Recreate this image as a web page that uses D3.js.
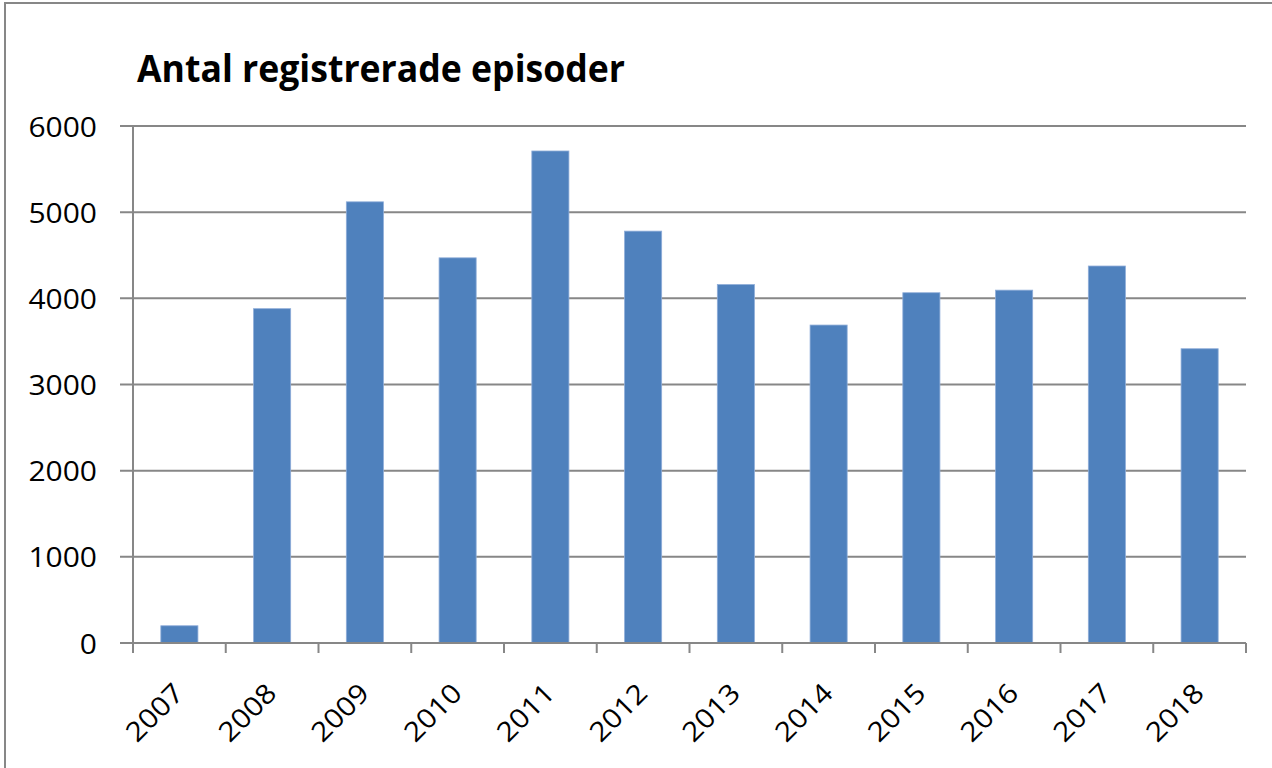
<!DOCTYPE html>
<html>
<head>
<meta charset="utf-8">
<script src="https://cdn.jsdelivr.net/npm/d3@7"></script>
<style>
  body { margin: 0; background: #fff; }
  text { font-family: "Open Sans", sans-serif; fill: #000; }
</style>
</head>
<body>
<svg id="chart" width="1272" height="768"></svg>
<script>
// data
var years = ["2007","2008","2009","2010","2011","2012","2013","2014","2015","2016","2017","2018"];
var episodes = [200, 3880, 5120, 4470, 5710, 4780, 4160, 3690, 4065, 4095, 4375, 3415];
var yTicks = [0, 1000, 2000, 3000, 4000, 5000, 6000];
var title = "Antal registrerade episoder";

var svg = d3.select("#chart"),
    width = +svg.attr("width"),
    height = +svg.attr("height");

var margin = {left: 133, right: 26, top: 126, bottom: 125};
var plotW = width - margin.left - margin.right,
    plotH = height - margin.top - margin.bottom;

var grey = "#878787";

// outer frame
svg.append("rect")
    .attr("x", 5).attr("y", 3)
    .attr("width", width + 10).attr("height", height + 10)
    .attr("fill", "none")
    .attr("stroke", grey)
    .attr("stroke-width", 2);

svg.append("text")
    .attr("x", 137)
    .attr("y", 82)
    .attr("font-size", 37)
    .attr("font-weight", "bold")
    .attr("textLength", 488)
    .attr("lengthAdjust", "spacingAndGlyphs")
    .text(title);

var g = svg.append("g")
    .attr("transform", "translate(" + margin.left + "," + margin.top + ")");

var x = d3.scaleBand()
    .domain(years)
    .range([0, plotW])
    .paddingInner(0.6)
    .paddingOuter(0.3);

var y = d3.scaleLinear()
    .domain([0, 6000])
    .range([plotH, 0]);

// stretch text a bit wider, like the original
function widen(sel, f) {
    sel.each(function() {
        var len = this.getComputedTextLength();
        d3.select(this)
            .attr("textLength", len * f)
            .attr("lengthAdjust", "spacingAndGlyphs");
    });
}

// gridlines + left ticks
g.selectAll(".grid")
    .data(yTicks)
    .enter().append("line")
    .attr("class", "grid")
    .attr("x1", -13)
    .attr("x2", plotW)
    .attr("y1", function(d) { return y(d); })
    .attr("y2", function(d) { return y(d); })
    .attr("stroke", grey)
    .attr("stroke-width", 2);

var yAxis = g.append("g")
    .call(d3.axisLeft(y).tickValues(yTicks).tickFormat(d3.format("d")).tickSize(0).tickPadding(36));
yAxis.select(".domain").remove();
yAxis.selectAll("text")
    .attr("font-size", 27)
    .attr("font-family", "Open Sans")
    .attr("dy", "0.37em")
    .call(widen, 1.11);

// bars
g.selectAll(".bar")
    .data(episodes)
    .enter().append("rect")
    .attr("class", "bar")
    .attr("x", function(d, i) { return x(years[i]); })
    .attr("y", function(d) { return y(d); })
    .attr("width", x.bandwidth())
    .attr("height", function(d) { return y(0) - y(d); })
    .attr("fill", "#4F81BD")
    .attr("stroke", "#8FADD9")
    .attr("stroke-width", 0.8);

// y axis line
g.append("line")
    .attr("x1", 0).attr("x2", 0)
    .attr("y1", 0).attr("y2", plotH + 10)
    .attr("stroke", grey)
    .attr("stroke-width", 2);

// x axis line and ticks at band edges
g.append("line")
    .attr("x1", 0).attr("x2", plotW)
    .attr("y1", plotH).attr("y2", plotH)
    .attr("stroke", grey)
    .attr("stroke-width", 2);

var edges = d3.range(years.length + 1);
g.selectAll(".xtick")
    .data(edges)
    .enter().append("line")
    .attr("class", "xtick")
    .attr("x1", function(i) { return i * x.step(); })
    .attr("x2", function(i) { return i * x.step(); })
    .attr("y1", plotH)
    .attr("y2", plotH + 10)
    .attr("stroke", grey)
    .attr("stroke-width", 2);

g.selectAll(".xlabel")
    .data(years)
    .enter().append("text")
    .attr("class", "xlabel")
    .attr("font-size", 27)
    .attr("text-anchor", "end")
    .attr("transform", function(d) {
        return "translate(" + (x(d) + x.bandwidth() / 2 + 6) + "," + (plotH + 52) + ") rotate(-45)";
    })
    .text(function(d) { return d; })
    .call(widen, 1.11);
</script>
</body>
</html>
